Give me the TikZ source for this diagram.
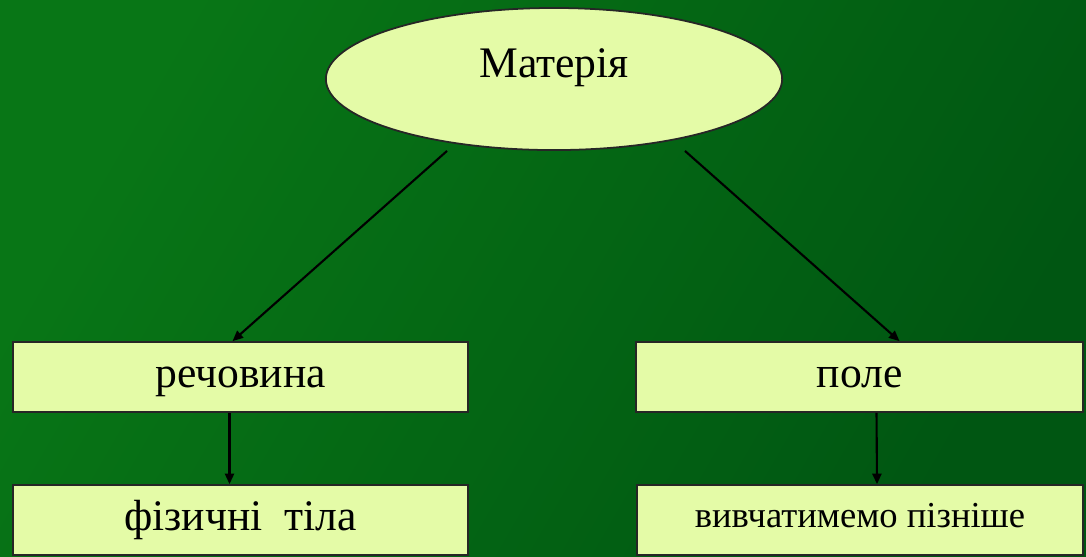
\documentclass[tikz,border=0pt]{standalone}
\usepackage{fontspec}
\setmainfont{Liberation Serif}
\usetikzlibrary{shapes.geometric,arrows.meta,calc}

\definecolor{bgLight}{RGB}{8,118,22}
\definecolor{bgDark}{RGB}{0,86,18}
\definecolor{boxFill}{RGB}{228,251,167}

\tikzset{
  kind/.style={draw=black!85,line width=0.5pt,fill=boxFill,inner sep=0pt,
    text height=0.32cm,text depth=0.12cm},
  wide/.style={kind,minimum width=4.5cm,minimum height=0.70cm},
  conn/.style={line width=0.6pt,-{Triangle[length=3pt,width=2.6pt]}}
}

\begin{document}
\begin{tikzpicture}[x=0.01cm,y=-0.01cm,font=\fontsize{12.4}{14}\selectfont]

\useasboundingbox (0,0) rectangle (1086,556);
\shade[top color=bgLight,bottom color=bgDark,shading angle=60] (0,0) rectangle (1086,556);

\begin{scope}
\node[kind,ellipse,minimum width=4.56cm,minimum height=1.42cm,
  text height=0.30cm,text depth=0.34cm] (mat) at (554,79) {Матерія};

\node[wide,minimum width=4.55cm] (rech) at (240.5,377) {речовина};
\node[wide,minimum width=4.47cm] (pole) at (859.5,377) {поле};
\node[wide,minimum width=4.55cm] (fiz) at (240.5,520) {фізичні\ \ тіла};
\node[wide,minimum width=4.46cm,text depth=0.17cm,
  font=\fontsize{10.4}{12}\selectfont] (later) at (860,520) {вивчатимемо пізніше};

\coordinate (matL) at ($(mat.south)+(-107,0)$);
\coordinate (matR) at ($(mat.south)+(131,0)$);

\draw[conn] (matL) -- ($(rech.north)+(-8,0)$);
\draw[conn] (matR) -- ($(pole.north)+(40,0)$);
\draw[conn] ($(rech.south)+(-11,0)$) -- ($(fiz.north)+(-11,0)$);
\draw[conn] ($(pole.south)+(17,0)$) -- ($(later.north)+(17,0)$);
\end{scope}

\end{tikzpicture}
\end{document}
